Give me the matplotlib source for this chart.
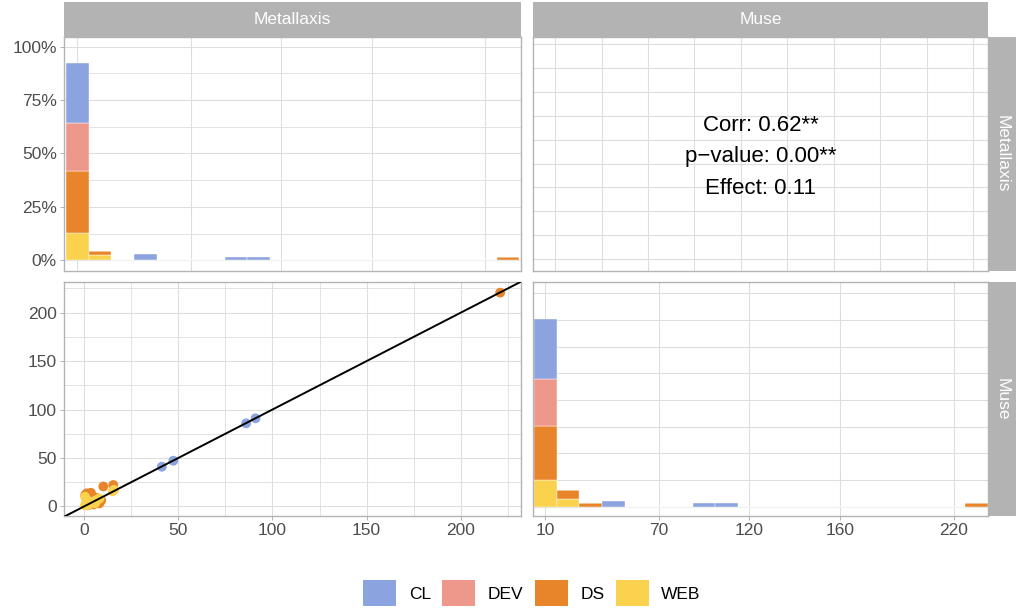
import numpy as np
import matplotlib
matplotlib.use('Agg')
import matplotlib.pyplot as plt
from matplotlib.patches import Patch

plt.rcParams['font.family'] = ['Liberation Sans', 'DejaVu Sans']

# ---------------- data ----------------
categories = ['CL', 'DEV', 'DS', 'WEB']
palette = ['#8BA3DE', '#EE978B', '#E8852B', '#FBD24E']
variables = ['Metallaxis', 'Muse']

# scatter: Metallaxis (x) vs Muse (y)
cl_metallaxis = [1, 2, 3, 4, 2, 41.2, 47.3, 86.0, 91.0]
cl_muse = [2, 3, 2, 4, 1, 40.9, 47.1, 85.7, 90.9]
dev_metallaxis = [1, 2, 3, 4, 5, 6, 3]
dev_muse = [3, 4, 6, 5, 7, 6, 2]
ds_metallaxis = [0.5, 1.3, 2.0, 3.5, 1.0, 4.0, 6.0, 7.0, 8.0, 9.0, 5.0, 2.5, 10.1, 15.4, 221.0]
ds_muse = [11.7, 13.4, 12.7, 14.0, 8.0, 10.0, 9.0, 5.0, 3.0, 6.0, 2.0, 6.0, 20.5, 22.0, 220.7]
web_metallaxis = [0.4, 2.1, 0.4, 1.0, 3.0, 5.7, 6.0, 7.0, 8.0, 15.1, 15.8]
web_muse = [9.9, 1.3, 1.0, 3.0, 5.0, 3.1, 6.0, 7.0, 8.0, 15.5, 17.0]

# diagonal histograms, 20 bins
n_bins = 20
# Metallaxis diagonal, heights in percent
met_pct_cl  = [28.1, 0, 0, 2.7, 0, 0, 0, 1.4, 1.4, 0, 0, 0, 0, 0, 0, 0, 0, 0, 0, 0]
met_pct_dev = [22.3, 0, 0, 0, 0, 0, 0, 0, 0, 0, 0, 0, 0, 0, 0, 0, 0, 0, 0, 0]
met_pct_ds  = [28.9, 1.6, 0, 0, 0, 0, 0, 0, 0, 0, 0, 0, 0, 0, 0, 0, 0, 0, 0, 1.4]
met_pct_web = [12.9, 2.5, 0, 0, 0, 0, 0, 0, 0, 0, 0, 0, 0, 0, 0, 0, 0, 0, 0, 0]
# Muse diagonal, heights in counts
muse_n_cl  = [22.5, 0, 0, 2.2, 0, 0, 0, 1.2, 1.2, 0, 0, 0, 0, 0, 0, 0, 0, 0, 0, 0]
muse_n_dev = [17.8, 0, 0, 0, 0, 0, 0, 0, 0, 0, 0, 0, 0, 0, 0, 0, 0, 0, 0, 0]
muse_n_ds  = [20.2, 3.4, 1.2, 0, 0, 0, 0, 0, 0, 0, 0, 0, 0, 0, 0, 0, 0, 0, 0, 1.2]
muse_n_web = [9.9, 2.8, 0, 0, 0, 0, 0, 0, 0, 0, 0, 0, 0, 0, 0, 0, 0, 0, 0, 0]

diag_tick_bins = [0, 5, 9, 13, 18]
diag_tick_labels = ['10', '70', '120', '160', '220']
pct_ticks = [0, 25, 50, 75, 100]
pct_labels = ['0%', '25%', '50%', '75%', '100%']
scatter_ticks = [0, 50, 100, 150, 200]

corr_value = 0.62
p_value = 0.00
effect_value = 0.11

# ---------------- style ----------------
W, H = 1016, 615
fig = plt.figure(figsize=(W / 100, H / 100), dpi=100)
fig.patch.set_facecolor('white')

GRID = '#DEDEDE'
BORDER = '#B3B3B3'
TXT = '#4D4D4D'
STRIP = '#B3B3B3'
FS = 12.5


def px_axes(x0, y0, x1, y1):
    return fig.add_axes([x0 / W, 1 - y1 / H, (x1 - x0) / W, (y1 - y0) / H])


def style(ax):
    for s in ax.spines.values():
        s.set_color(BORDER)
        s.set_linewidth(1.0)
    ax.set_axisbelow(True)
    ax.tick_params(which='major', length=2.7, width=0.7, color=BORDER,
                   labelcolor=TXT, labelsize=FS, pad=2.0)
    ax.tick_params(which='minor', length=0)
    ax.grid(which='major', color=GRID, linewidth=0.8)
    ax.grid(which='minor', color=GRID, linewidth=0.6)


C1 = (63.5, 521.0)
C2 = (532.7, 988.3)
R1 = (36.7, 270.7)
R2 = (282.3, 516.0)

bins = np.arange(n_bins)


def stacked_hist(ax, series):
    bottom = np.zeros(n_bins)
    # stack: WEB at bottom, CL on top
    for name in ['WEB', 'DS', 'DEV', 'CL']:
        vals = np.array(series[name], dtype=float)
        ax.bar(bins, vals, width=1.0, align='edge', bottom=bottom,
               color=palette[categories.index(name)], edgecolor='white',
               linewidth=0.3, zorder=2)
        bottom += vals


# top-left: Metallaxis diagonal
ax11 = px_axes(C1[0], R1[0], C1[1], R1[1])
style(ax11)
stacked_hist(ax11, {'CL': met_pct_cl, 'DEV': met_pct_dev, 'DS': met_pct_ds, 'WEB': met_pct_web})
ax11.set_xlim(-0.11, n_bins + 0.075)
ax11.set_ylim(-4.9, 104.7)
ax11.set_xticks(np.array(diag_tick_bins) + 0.5)
ax11.tick_params(axis='x', length=0, labelbottom=False)
ax11.set_yticks(pct_ticks)
ax11.set_yticklabels(pct_labels)
ax11.set_yticks([12.5, 37.5, 62.5, 87.5], minor=True)

# top-right: correlation text
ax12 = px_axes(C2[0], R1[0], C2[1], R1[1])
style(ax12)
ax12.set_xlim(-0.48, 9.32)
ax12.set_ylim(-0.48, 9.3)
ax12.set_xticks(np.arange(10))
ax12.set_yticks(np.arange(10))
ax12.tick_params(length=0, labelbottom=False, labelleft=False)
lines = [f"Corr: {corr_value:.2f}**",
         f"p\u2212value: {p_value:.2f}**",
         f"Effect: {effect_value:.2f}"]
for line, yy in zip(lines, [0.622, 0.486, 0.352]):
    ax12.text(0.5, yy, line, transform=ax12.transAxes, ha='center', va='center',
              fontsize=16, color='black')

# bottom-left: scatter
ax21 = px_axes(C1[0], R2[0], C1[1], R2[1])
style(ax21)
series_xy = [(cl_metallaxis, cl_muse), (dev_metallaxis, dev_muse),
             (ds_metallaxis, ds_muse), (web_metallaxis, web_muse)]
for (xs, ys), col in zip(series_xy, palette):
    ax21.scatter(xs, ys, s=50, color=col, edgecolors='none', zorder=3)
ax21.axline((0, 0), slope=1, color='black', linewidth=1.4, zorder=4)
ax21.set_xlim(-11.05, 232.05)
ax21.set_ylim(-10.0, 231.4)
ax21.set_xticks(scatter_ticks)
ax21.set_yticks(scatter_ticks)
ax21.set_xticks([25, 75, 125, 175, 225], minor=True)
ax21.set_yticks([25, 75, 125, 175, 225], minor=True)

# bottom-right: Muse diagonal
ax22 = px_axes(C2[0], R2[0], C2[1], R2[1])
style(ax22)
stacked_hist(ax22, {'CL': muse_n_cl, 'DEV': muse_n_dev, 'DS': muse_n_ds, 'WEB': muse_n_web})
ax22.set_xlim(-0.057, n_bins + 0.03)
ax22.set_ylim(-3.5, 84.1)
ax22.set_xticks(np.array(diag_tick_bins) + 0.5)
ax22.set_xticklabels(diag_tick_labels)
ax22.set_yticks(np.arange(0, 81, 10))
ax22.tick_params(axis='y', length=0, labelleft=False)

# strips
def strip(x0, y0, x1, y1, label, rotation=0):
    s = px_axes(x0, y0, x1, y1)
    s.set_facecolor(STRIP)
    s.set_xticks([])
    s.set_yticks([])
    for sp in s.spines.values():
        sp.set_visible(False)
    s.text(0.5, 0.5, label, transform=s.transAxes, ha='center', va='center',
           color='white', fontsize=FS, rotation=rotation)

strip(C1[0], 1.7, C1[1], R1[0], variables[0])
strip(C2[0], 1.7, C2[1], R1[0], variables[1])
strip(C2[1], R1[0], 1016, R1[1], variables[0], rotation=270)
strip(C2[1], R2[0], 1016, R2[1], variables[1], rotation=270)

# legend
handles = [Patch(facecolor=c, edgecolor='none', label=l) for l, c in zip(categories, palette)]
fig.legend(handles=handles, ncol=4, loc='center', bbox_to_anchor=(532 / W, 1 - 593 / H),
           frameon=False, fontsize=12.5, handlelength=1.9, handleheight=1.9,
           handletextpad=0.72, columnspacing=0.65, borderpad=0, borderaxespad=0)

fig.savefig('out.png', dpi=100, facecolor='white')
